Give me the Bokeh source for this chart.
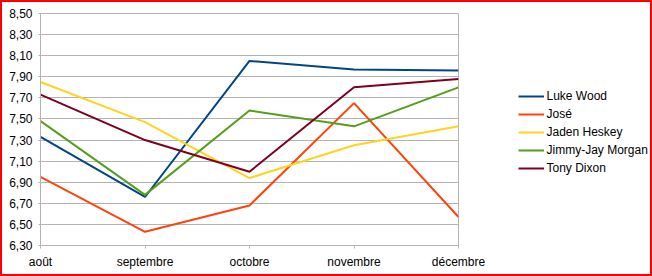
from bokeh.plotting import figure
from bokeh.layouts import row
from bokeh.models import Range1d, FixedTicker, Legend, LegendItem
from bokeh.embed import file_html
from bokeh.resources import INLINE

months = ["août", "septembre", "octobre", "novembre", "décembre"]
y_ticks = [6.3, 6.5, 6.7, 6.9, 7.1, 7.3, 7.5, 7.7, 7.9, 8.1, 8.3, 8.5]
y_tick_labels = ["6,30", "6,50", "6,70", "6,90", "7,10", "7,30", "7,50", "7,70", "7,90", "8,10", "8,30", "8,50"]

names = ["Luke Wood", "José", "Jaden Heskey", "Jimmy-Jay Morgan", "Tony Dixon"]
luke_wood = [7.33, 6.76, 8.05, 7.97, 7.96]
jose = [6.95, 6.43, 6.68, 7.65, 6.57]
jaden_heskey = [7.85, 7.47, 6.94, 7.25, 7.43]
jimmy_jay_morgan = [7.48, 6.78, 7.58, 7.43, 7.80]
tony_dixon = [7.73, 7.30, 7.00, 7.80, 7.88]
series = [luke_wood, jose, jaden_heskey, jimmy_jay_morgan, tony_dixon]
colors = ["#004586", "#ff420e", "#ffd320", "#579d1c", "#7e0021"]

FONT = "Liberation Sans"
GRID = "#b3b3b3"

# main chart
p = figure(width=512, height=272, output_backend="svg", toolbar_location=None,
           x_range=Range1d(0, len(months) - 1), y_range=Range1d(y_ticks[0], y_ticks[-1]),
           min_border_left=38, min_border_right=56, min_border_top=11, min_border_bottom=29)
p.background_fill_color = "white"
p.border_fill_color = "white"
p.outline_line_color = GRID
p.outline_line_width = 1

x_idx = list(range(len(months)))
p.xaxis.ticker = FixedTicker(ticks=x_idx)
p.xaxis.major_label_overrides = {i: m for i, m in zip(x_idx, months)}
p.yaxis.ticker = FixedTicker(ticks=y_ticks)
p.yaxis.major_label_overrides = {t: l for t, l in zip(y_ticks, y_tick_labels)}

for ax in (p.xaxis, p.yaxis):
    ax.axis_line_color = GRID
    ax.major_tick_line_color = GRID
    ax.minor_tick_line_color = None
    ax.major_tick_in = 0
    ax.major_label_text_font = FONT
    ax.major_label_text_font_size = "12px"
    ax.major_label_text_color = "#000000"
p.xaxis.major_tick_out = 3
p.xaxis.major_label_standoff = 6
p.yaxis.major_tick_out = 2
p.yaxis.major_label_standoff = 6

p.xgrid.grid_line_color = None
p.ygrid.grid_line_color = GRID
p.ygrid.ticker = FixedTicker(ticks=y_ticks)

for name, vals, c in zip(names, series, colors):
    p.line(x_idx, vals, line_color=c, line_width=2)

# legend panel (series re-plotted outside its visible range, only the legend shows)
q = figure(width=136, height=272, output_backend="svg", toolbar_location=None,
           x_range=Range1d(100, 101), y_range=Range1d(0, 1),
           min_border_left=0, min_border_right=0, min_border_top=0, min_border_bottom=0)
q.axis.visible = False
q.grid.grid_line_color = None
q.outline_line_color = None
q.background_fill_color = "white"
q.border_fill_color = "white"

items = []
for name, vals, c in zip(names, series, colors):
    r = q.line(x_idx, vals, line_color=c, line_width=2)
    items.append(LegendItem(label=name, renderers=[r]))

legend = Legend(items=items, location=(3.5, 69), padding=0, margin=0,
                glyph_width=26, glyph_height=16, label_height=16,
                spacing=2, label_standoff=3, label_text_font=FONT, label_text_font_size="12px",
                label_text_color="#000000", border_line_alpha=0, background_fill_alpha=0)
q.add_layout(legend)

layout = row(p, q, spacing=0)
layout.styles = {"border": "2px solid #ff0000", "box-sizing": "content-box"}

open("out.html", "w").write(file_html(layout, INLINE))
